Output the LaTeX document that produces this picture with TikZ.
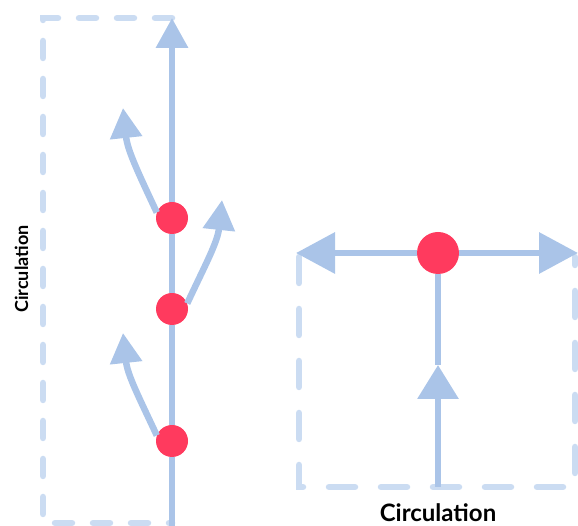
\documentclass[tikz,border=0pt]{standalone}
\usepackage{fontspec}
\setmainfont{Lato}
\usetikzlibrary{arrows.meta}
\definecolor{flowblue}{HTML}{AAC4E8}
\definecolor{zoneblue}{HTML}{CBDCF2}
\definecolor{dotred}{HTML}{FF3A5E}
\begin{document}
\begin{tikzpicture}
  [x=1pt,y=1pt,
   dot/.style={circle,fill=dotred,inner sep=0pt,minimum size=32pt},
   bigdot/.style={dot,minimum size=42pt},
   flow/.style={flowblue,line width=6.5pt},
   zone/.style={zoneblue,line width=6.5pt,line cap=round,dash pattern=on 17pt off 21pt},
   widezone/.style={zone,dash pattern=on 26pt off 26pt},
   label/.style={anchor=base,inner sep=0pt,font=\bfseries\fontsize{#1}{#1}\selectfont},
   tip/.style={-{Triangle[length=30pt,width=31pt]}},
   bigtip/.style={-{Triangle[length=39pt,width=40pt]}}]
  \useasboundingbox (0,0) rectangle (578,526);

  % left zone
  \draw[zone] (172,508) -- (43,508) -- (43,3) -- (172,3);
  \coordinate (s1) at (172,0);
  \coordinate (t0) at (172,508);
  \coordinate (t1) at (123,418);
  \coordinate (t2) at (222,326);
  \coordinate (t3) at (123,193);
  \node[dot] (d1) at (172,308) {};
  \node[dot] (d2) at (172,217) {};
  \node[dot] (d3) at (172,85) {};

  \draw[flow] (s1) -- (d3);
  \draw[flow] (d3) -- (d2);
  \draw[flow] (d2) -- (d1);
  \draw[flow,tip] (d1) -- (t0);
  \draw[flow,tip] (d1.160) to[out=115,in=-84] (t1);
  \draw[flow,tip] (d2.20) to[out=65,in=-96] (t2);
  \draw[flow,tip] (d3.160) to[out=115,in=-84] (t3);

  \node[label=18,rotate=90] (c1) at (28,257) {Circulation};

  % right zone
  \draw[widezone] (299,269) -- (299,39) -- (575,39) -- (575,269);
  \coordinate (s2) at (438,39);
  \coordinate (m2) at (438,161);
  \coordinate (w2) at (296,273);
  \coordinate (e2) at (578,273);
  \node[bigdot] (d4) at (438,273) {};

  \draw[flow,bigtip] (d4) -- (w2);
  \draw[flow,bigtip] (d4) -- (e2);
  \draw[flow,-{Triangle[length=34pt,width=40pt]}] (s2) -- (m2);
  \draw[flow] (m2) -- (d4);

  \node[label=24] (c2) at (438,4) {Circulation};
\end{tikzpicture}
\end{document}
